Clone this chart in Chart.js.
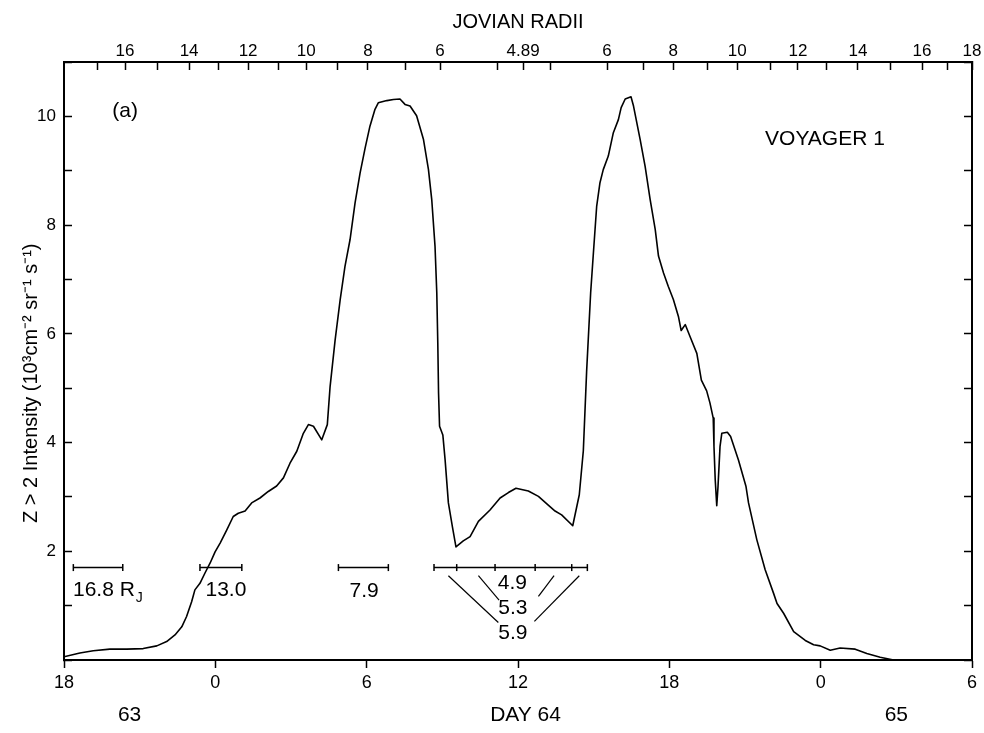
<!DOCTYPE html>
<html>
<head>
<meta charset="utf-8">
<script src="https://cdn.jsdelivr.net/npm/chart.js@4"></script>
<style>
  html, body { margin: 0; padding: 0; background: #fff; }
  canvas { display: block; }
</style>
</head>
<body>
<canvas id="intensityChart" width="984" height="733"></canvas>
<script>
  // time in hours from 00h of day 63 (18 = day 63 18h ... 54 = day 65 06h)
  const hours = [
    18.00, 18.63, 19.16, 19.82, 20.49, 21.14, 21.68, 22.07, 22.40, 22.67,
    22.86, 23.06, 23.19, 23.39, 23.59, 23.79, 23.99, 24.19, 24.45, 24.71,
    24.91, 25.18, 25.44, 25.77, 26.10, 26.43, 26.70, 26.96, 27.23, 27.49,
    27.69, 27.89, 28.22, 28.44, 28.55, 28.75, 28.95, 29.14, 29.34, 29.54,
    29.74, 29.94, 30.13, 30.33, 30.46, 30.80, 31.06, 31.32, 31.52, 31.72,
    31.98, 32.25, 32.45, 32.58, 32.71, 32.78, 32.82, 32.85, 32.89, 33.02,
    33.11, 33.24, 33.40, 33.54, 33.83, 34.10, 34.43, 34.89, 35.29, 35.62,
    35.92, 36.41, 36.81, 37.20, 37.47, 37.73, 38.17, 38.43, 38.59, 38.72,
    38.88, 38.99, 39.12, 39.25, 39.38, 39.58, 39.78, 39.98, 40.09, 40.25,
    40.48, 40.58, 40.84, 41.04, 41.24, 41.44, 41.57, 41.77, 41.96, 42.16,
    42.36, 42.47, 42.63, 42.82, 43.09, 43.27, 43.48, 43.61, 43.74, 43.77,
    43.82, 43.88, 43.93, 44.01, 44.08, 44.30, 44.43, 44.74, 45.04, 45.14,
    45.47, 45.80, 46.13, 46.27, 46.53, 46.93, 47.39, 47.72, 47.98, 48.38,
    48.77, 49.37, 49.83, 50.36, 50.89, 54.00
  ];
  // Z > 2 intensity, 10^3 cm^-2 sr^-1 s^-1
  const intensity = [
    0.06, 0.13, 0.17, 0.20, 0.20, 0.21, 0.26, 0.34, 0.46, 0.61,
    0.80, 1.07, 1.29, 1.41, 1.60, 1.78, 1.99, 2.15, 2.39, 2.64,
    2.70, 2.74, 2.89, 2.98, 3.10, 3.20, 3.35, 3.62, 3.84, 4.17,
    4.33, 4.30, 4.05, 4.33, 5.03, 5.89, 6.63, 7.24, 7.73, 8.41,
    8.96, 9.42, 9.82, 10.13, 10.25, 10.29, 10.31, 10.32, 10.22, 10.19,
    10.01, 9.58, 9.02, 8.47, 7.61, 6.75, 5.83, 4.91, 4.30, 4.14,
    3.68, 2.89, 2.45, 2.08, 2.19, 2.27, 2.55, 2.76, 2.98, 3.08,
    3.16, 3.11, 3.01, 2.85, 2.74, 2.67, 2.47, 3.04, 3.85, 5.30,
    6.75, 7.49, 8.35, 8.78, 9.02, 9.27, 9.70, 9.94, 10.16, 10.32,
    10.36, 10.19, 9.58, 9.08, 8.47, 7.92, 7.43, 7.12, 6.87, 6.63,
    6.32, 6.06, 6.17, 5.95, 5.64, 5.15, 4.95, 4.73, 4.45, 3.93,
    3.31, 2.84, 3.19, 3.93, 4.17, 4.19, 4.11, 3.68, 3.19, 2.89,
    2.21, 1.66, 1.23, 1.04, 0.86, 0.52, 0.36, 0.28, 0.26, 0.18,
    0.22, 0.20, 0.12, 0.05, 0.00, 0.00
  ];

  // day numbers written under the hour ticks
  const dayLabels = ['63', 'DAY 64', '65'];
  const dayLabelHours = [20.6, 36.3, 51.0];

  // top scale: distance from Jupiter along the trajectory
  const radiiTickHours = [
    19.31, 20.42, 21.69, 22.96, 24.11, 25.30, 26.49, 27.60, 28.83, 30.05,
    31.52, 32.91, 35.17, 36.20, 37.27, 39.53, 40.96, 42.15, 43.50, 44.69,
    46.00, 47.10, 48.25, 49.48, 50.75, 52.02, 53.01, 54.00
  ];
  const radiiTickLabels = [
    '', '16', '', '14', '', '12', '', '10', '', '8',
    '', '6', '', '4.89', '', '6', '', '8', '', '10',
    '', '12', '', '14', '', '16', '', '18'
  ];

  // averaging intervals marked under the curve, with their mean distance
  const spanLevel = 1.7;
  const spanTicks = [
    [18.37, 20.33],
    [23.39, 25.05],
    [28.88, 30.86],
    [32.67, 33.57, 35.09, 36.68, 38.13, 38.75]
  ];
  const spanLabels = ['16.8 R', '13.0', '7.9', '4.9', '5.3', '5.9'];
  const spanSubs = ['J', '', '', '', '', ''];
  const spanLabelHours = [19.72, 24.42, 29.90, 35.78, 35.80, 35.80];
  const spanLabelLevels = [1.29, 1.29, 1.27, 1.41, 0.96, 0.50];
  // leader lines from the nested intervals to their labels
  const leaderFrom = [[33.24, 1.55], [34.43, 1.55], [37.43, 1.55], [38.43, 1.55]];
  const leaderTo = [[35.22, 0.69], [35.25, 1.10], [36.81, 1.17], [36.65, 0.71]];

  const panelNotes = ['(a)', 'VOYAGER 1'];
  const panelNoteHours = [20.42, 48.17];
  const panelNoteLevels = [10.09, 9.58];

  Chart.defaults.font.family = '"Liberation Sans", Arial, sans-serif';
  Chart.defaults.color = '#000';

  const ink = '#000';

  const curve = {
    data: hours.map((h, i) => ({ x: h, y: intensity[i] })),
    borderColor: ink,
    borderWidth: 1.6,
    borderJoinStyle: 'round',
    pointRadius: 0,
    tension: 0
  };

  const spans = spanTicks.map(t => ({
    data: t.map(h => ({ x: h, y: spanLevel })),
    borderColor: ink,
    borderWidth: 1.5,
    pointStyle: 'line',
    pointRotation: 90,
    pointRadius: 3.5,
    pointBorderWidth: 1.5,
    pointBorderColor: ink
  }));

  const leaders = leaderFrom.map((p, i) => ({
    data: [{ x: p[0], y: p[1] }, { x: leaderTo[i][0], y: leaderTo[i][1] }],
    borderColor: ink,
    borderWidth: 1.2,
    pointRadius: 0
  }));

  // text notes placed in data coordinates
  const notes = {
    id: 'notes',
    afterDatasetsDraw(chart) {
      const { ctx, chartArea } = chart;
      const x = chart.scales.x;
      const y = chart.scales.y;
      const face = '"Liberation Sans", Arial, sans-serif';
      ctx.save();
      ctx.fillStyle = ink;
      ctx.textBaseline = 'middle';
      ctx.textAlign = 'center';
      ctx.font = '21px ' + face;

      panelNotes.forEach((t, i) => {
        ctx.fillText(t, x.getPixelForValue(panelNoteHours[i]), y.getPixelForValue(panelNoteLevels[i]));
      });

      spanLabels.forEach((t, i) => {
        const px = x.getPixelForValue(spanLabelHours[i]);
        const py = y.getPixelForValue(spanLabelLevels[i]);
        if (!spanSubs[i]) {
          ctx.fillText(t, px, py);
          return;
        }
        const w1 = ctx.measureText(t).width;
        ctx.font = '14px ' + face;
        const w2 = ctx.measureText(spanSubs[i]).width;
        ctx.textAlign = 'left';
        const x0 = px - (w1 + w2) / 2;
        ctx.fillText(spanSubs[i], x0 + w1 + 1, py + 8);
        ctx.font = '21px ' + face;
        ctx.fillText(t, x0, py);
        ctx.textAlign = 'center';
      });

      dayLabels.forEach((t, i) => {
        ctx.fillText(t, x.getPixelForValue(dayLabelHours[i]), chartArea.bottom + 55);
      });
      ctx.restore();
    }
  };

  const frame = { color: ink, width: 2 };

  // fixed box sizes keep the plot frame in place; edge labels may overhang
  const fixHeight = h => s => { s.height = h; s.paddingLeft = 0; s.paddingRight = 0; };
  const fixWidth = w => s => { s.width = w; s.paddingTop = 0; s.paddingBottom = 0; };

  new Chart(document.getElementById('intensityChart'), {
    type: 'line',
    data: { datasets: [curve, ...spans, ...leaders] },
    options: {
      responsive: false,
      animation: false,
      events: [],
      layout: { padding: 0 },
      plugins: {
        legend: { display: false },
        tooltip: { enabled: false }
      },
      scales: {
        x: {
          type: 'linear',
          position: 'bottom',
          min: 18,
          max: 54,
          afterFit: fixHeight(73),
          border: frame,
          grid: { drawOnChartArea: false, color: ink, tickLength: 8, tickWidth: 1.5 },
          ticks: {
            stepSize: 6,
            padding: 4,
            autoSkip: false,
            maxRotation: 0,
            font: { size: 18 },
            callback: v => v % 24
          }
        },
        xTop: {
          type: 'linear',
          position: 'top',
          min: 18,
          max: 54,
          afterBuildTicks: s => { s.ticks = radiiTickHours.map(v => ({ value: v })); },
          afterFit: fixHeight(62),
          border: frame,
          grid: { drawOnChartArea: false, color: ink, tickLength: -8, tickWidth: 1.5 },
          ticks: {
            padding: 8,
            autoSkip: false,
            maxRotation: 0,
            font: { size: 17 },
            callback: (v, i) => radiiTickLabels[i]
          },
          title: {
            display: true,
            text: 'JOVIAN RADII',
            font: { size: 20 },
            padding: { top: 10, bottom: 0 }
          }
        },
        y: {
          position: 'left',
          min: 0,
          max: 11,
          afterFit: fixWidth(64),
          border: frame,
          grid: { drawOnChartArea: false, color: ink, tickLength: -8, tickWidth: 1.5 },
          ticks: {
            stepSize: 1,
            padding: 16,
            font: { size: 17 },
            callback: v => (v > 0 && v % 2 === 0 ? v : '')
          },
          title: {
            display: true,
            // trailing spaces push the rotated text a little below the centre
            text: 'Z > 2 Intensity (10³cm⁻² sr⁻¹ s⁻¹)\u00a0\u00a0\u00a0\u00a0\u00a0\u00a0\u00a0\u00a0',
            font: { size: 20 },
            padding: { top: 19, bottom: 0 }
          }
        },
        yRight: {
          position: 'right',
          min: 0,
          max: 11,
          afterFit: fixWidth(12),
          border: frame,
          grid: { drawOnChartArea: false, color: ink, tickLength: -8, tickWidth: 1.5 },
          ticks: { stepSize: 1, display: false }
        }
      }
    },
    plugins: [notes]
  });
</script>
</body>
</html>
